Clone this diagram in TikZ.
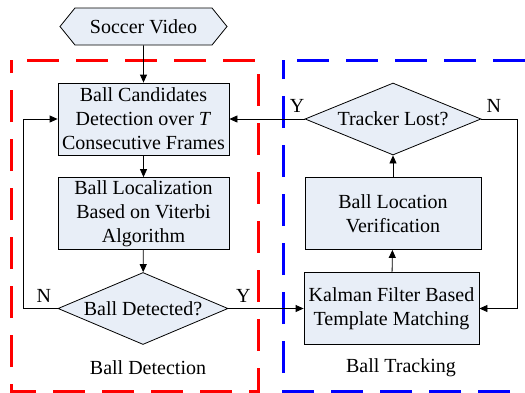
\documentclass[tikz,border=0pt]{standalone}
\usepackage{fontspec}
\setmainfont{Liberation Serif}
\usetikzlibrary{shapes.geometric,shapes.symbols,arrows.meta}
\definecolor{boxfill}{RGB}{232,238,247}
\definecolor{redd}{RGB}{255,0,0}
\definecolor{blued}{RGB}{0,0,255}
\begin{document}
\begin{tikzpicture}[x=1pt,y=-1pt,
  every node/.style={font=\fontsize{20}{24}\selectfont},
  procbox/.style={draw=black,fill=boxfill,line width=0.8pt,minimum width=171pt,minimum height=72pt,align=center,inner sep=0pt},
  decbox/.style={draw=black,fill=boxfill,line width=0.8pt,diamond,aspect=2.34,minimum width=170pt,minimum height=72pt,inner sep=0pt,align=center},
  termbox/.style={draw=black,fill=boxfill,line width=0.8pt,signal,signal to=east and west,signal pointer angle=102,minimum width=167pt,minimum height=37pt,inner sep=0pt},
  conn/.style={line width=0.8pt,-{Triangle[length=8pt,width=7pt]}},
  grp/.style={line width=3pt,dash pattern=on 32pt off 17pt},
  lbl/.style={inner sep=0pt}]
\useasboundingbox (0,0) rectangle (525,392);
\begin{scope}
\clip (0,0) rectangle (525,392);
\draw[grp,draw=redd,dash phase=-16pt] (11,60) -- (258,60) -- (258,391) -- (11,391) -- cycle;
\draw[grp,draw=blued,dash phase=-14pt] (283,60) -- (532,60) -- (532,391) -- (283,391) -- cycle;
\end{scope}
\node[termbox] (src) at (143.5,26.5) {Soccer Video};
\node[procbox] (cand) at (143.5,119) {Ball Candidates\\Detection over \textit{T}\\Consecutive Frames};
\node[procbox] (loc) at (143.5,213.5) {Ball Localization\\Based on Viterbi\\Algorithm};
\node[decbox] (det) at (143,308.5) {Ball Detected?};
\node[procbox,minimum width=175pt] (kal) at (391.5,308.5) {Kalman Filter Based\\Template Matching};
\node[procbox,minimum width=176pt] (ver) at (393,213.5) {Ball Location\\Verification};
\node[decbox,minimum width=176pt] (lost) at (393,119) {Tracker Lost?};
\node[lbl] (ld) at (148,368) {Ball Detection};
\node[lbl] (lt) at (401,368) {Ball Tracking};
\coordinate (lc) at (23,0);
\coordinate (rc) at (517,0);
\draw[conn] (src) -- (cand);
\draw[conn] (cand) -- (loc);
\draw[conn] (loc) -- (det);
\draw[conn] (det.east) -- (kal.west) node[lbl,pos=0.2,above=6pt] (dy) {Y};
\draw[conn] (det.west) -- (det.west -| lc) node[lbl,pos=0.4,above=6pt] (dn) {N} |- (cand.west);
\draw[conn] (kal) -- (ver);
\draw[conn] (ver) -- (lost);
\draw[conn] (lost.west) -- (cand.east) node[lbl,pos=0.1,above=6pt] (ty) {Y};
\draw[conn] (lost.east) -- (lost.east -| rc) node[lbl,pos=0.35,above=6pt] (tn) {N} |- (kal.east);
\end{tikzpicture}
\end{document}
